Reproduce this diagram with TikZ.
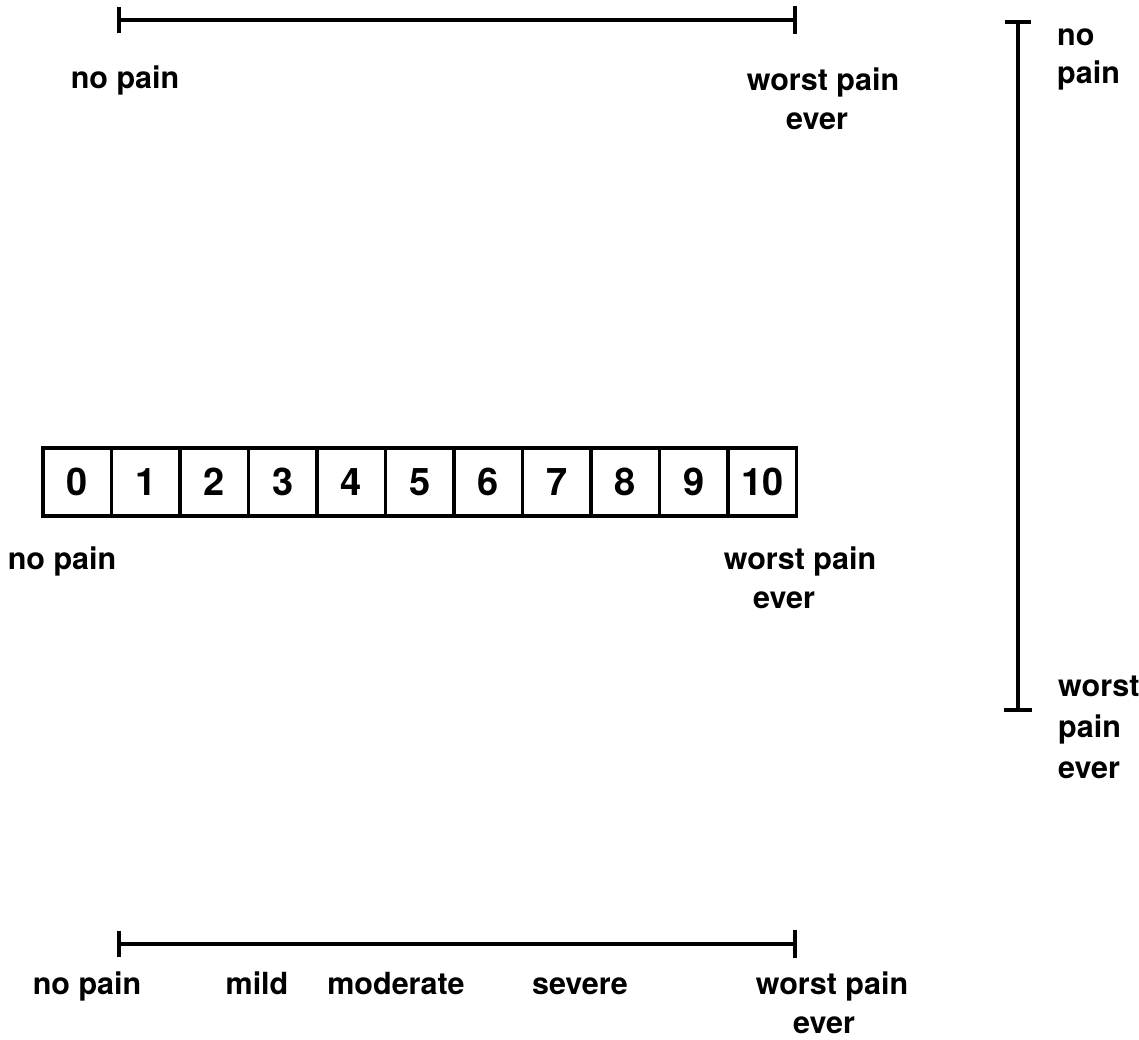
\documentclass[tikz,border=0pt]{standalone}
\usepackage{fontspec}
\setmainfont{TeX Gyre Heros}
\usetikzlibrary{arrows.meta}
\begin{document}
\begin{tikzpicture}[x=1pt,y=-1pt,
  lbl/.style={font=\fontsize{30.5}{34}\selectfont\bfseries, anchor=base, inner sep=0pt},
  lblw/.style={lbl, anchor=base west},
  scaleline/.style={line width=3.8pt, {Bar[width=26pt]}-{Bar[width=28pt]}},
  numbox/.style={draw, line width=3.2pt, minimum width=68.5pt, minimum height=68pt, inner sep=0pt, font=\fontsize{38}{42}\selectfont\bfseries},
]
\useasboundingbox (0,0) rectangle (1139,1040);
% top horizontal scale
\coordinate (tL) at (117,20);
\coordinate (tR) at (797,20);
\draw[scaleline] (tL) -- (tR);
\node[lbl] (t1) at (125,89) {no pain};
\node[lbl] (t2) at (823,91) {worst pain};
\node[lbl] (t3) at (817,130) {ever};
% vertical scale
\coordinate (vT) at (1018,20);
\coordinate (vB) at (1018,712);
\draw[scaleline] (vT) -- (vB);
\node[lblw] (v1) at (1057,46) {no};
\node[lblw] (v2) at (1057,84) {pain};
\node[lblw] (v3) at (1058,696) {worst};
\node[lblw] (v4) at (1058,737) {pain};
\node[lblw] (v5) at (1058,778) {ever};
% numeric boxes
\foreach \i in {0,...,10} {
  \node[numbox] (b\i) at ({43+34.25+68.5*\i},482) {\i};
}
\node[lbl] (m1) at (62,569) {no pain};
\node[lbl] (m2) at (800,569) {worst pain};
\node[lbl] (m3) at (784,608) {ever};
% bottom descriptive scale
\coordinate (bL) at (117,944);
\coordinate (bR) at (797,944);
\draw[scaleline] (bL) -- (bR);
\node[lbl] (d1) at (87,994) {no pain};
\node[lbl] (d2) at (257,994) {mild};
\node[lbl] (d3) at (396,994) {moderate};
\node[lbl] (d4) at (580,994) {severe};
\node[lbl] (d5) at (832,994) {worst pain};
\node[lbl] (d6) at (824,1033) {ever};
\end{tikzpicture}
\end{document}
